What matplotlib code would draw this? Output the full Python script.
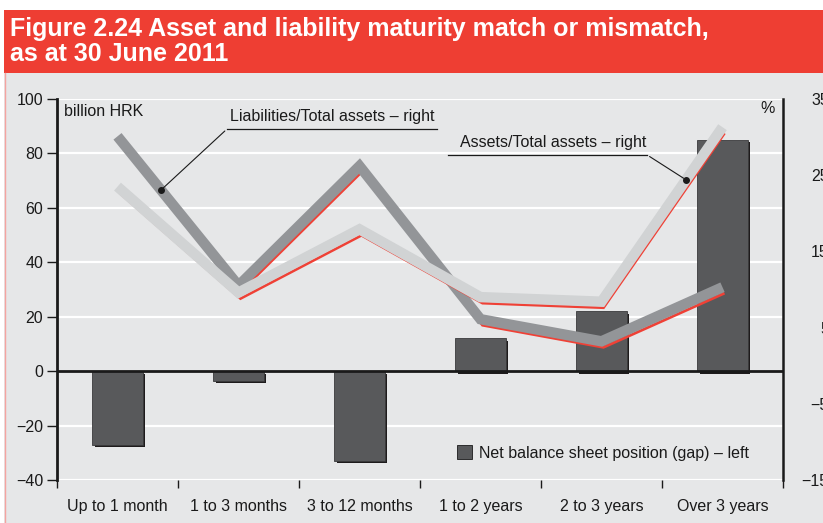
import matplotlib
matplotlib.use("Agg")
import matplotlib.pyplot as plt
import matplotlib.transforms as mtransforms
from matplotlib.patches import Rectangle, Patch
from matplotlib.lines import Line2D

# ---------------- data ----------------
categories = ["Up to 1 month", "1 to 3 months", "3 to 12 months",
              "1 to 2 years", "2 to 3 years", "Over 3 years"]
net_gap = [-27.0, -3.5, -33.0, 12.0, 22.0, 85.0]          # billion HRK, left axis
liab_ratio = [30.1, 10.5, 26.2, 6.1, 3.2, 10.3]           # %, right axis
asset_ratio = [23.5, 9.6, 17.9, 9.0, 8.4, 31.3]           # %, right axis
left_ticks = [-40, -20, 0, 20, 40, 60, 80, 100]
right_ticks = [-15, -5, 5, 15, 25, 35]

title_l1 = "Figure 2.24 Asset and liability maturity match or mismatch,"
title_l2 = "as at 30 June 2011"

# ---------------- style ----------------
BG = "#e6e7e8"
RED = "#ee3e33"
BAR = "#58595b"
SHADOW = "#1e1b1c"
LIAB = "#939598"
ASSET = "#d1d3d4"
LRED = "#ef4136"
FONT = ["Liberation Sans", "DejaVu Sans"]
plt.rcParams["font.family"] = FONT
FS = 11.5

W, H, DPI = 823, 523, 100
fig = plt.figure(figsize=(W / DPI, H / DPI), dpi=DPI, facecolor="white")

# background panels
fig.patches.append(Rectangle((4 / W, 0), 1 - 4 / W, (H - 73) / H, transform=fig.transFigure,
                             facecolor=BG, edgecolor="none", zorder=-10))
fig.patches.append(Rectangle((4 / W, (H - 73) / H), 1 - 4 / W, 63 / H, transform=fig.transFigure,
                             facecolor=RED, edgecolor="none", zorder=-10))
fig.lines.append(Line2D([4.5 / W, 4.5 / W], [0, (H - 73) / H], transform=fig.transFigure,
                        color="#f4a3a0", lw=1.0, zorder=-9))

title_font = ["Liberation Sans Narrow", "Liberation Sans", "DejaVu Sans"]
fig.text(10 / W, (H - 36) / H, title_l1, color="white", fontsize=18, fontweight="bold",
         family=title_font, va="baseline", ha="left")
fig.text(10 / W, (H - 61) / H, title_l2, color="white", fontsize=18, fontweight="bold",
         family=title_font, va="baseline", ha="left")

# ---------------- axes ----------------
x0, x1, ytop, ybot = 57, 783, 99, 480
ax = fig.add_axes([x0 / W, (H - ybot) / H, (x1 - x0) / W, (ybot - ytop) / H])
ax.set_facecolor("none")
ax.set_xlim(-0.5, len(categories) - 0.5)
ax.set_ylim(-40, 100)

xs = list(range(len(categories)))

# gridlines
for t in left_ticks:
    if t != 0:
        ax.axhline(t, color="white", lw=1.6, zorder=0)

# bars with shadow
shadow_off = mtransforms.ScaledTranslation(2.5 / DPI, -2.5 / DPI, fig.dpi_scale_trans)
ax.bar(xs, net_gap, width=0.42, color=SHADOW, transform=ax.transData + shadow_off,
       zorder=2, linewidth=0)
ax.bar(xs, net_gap, width=0.42, color=BAR, edgecolor="#3a3a3c", linewidth=0.6, zorder=3)
ax.axhline(0, color="#1a1a1a", lw=2.0, zorder=4)

for s in ["top", "bottom"]:
    ax.spines[s].set_visible(False)
ax.spines["left"].set_linewidth(2.0)
ax.spines["left"].set_color("#1a1a1a")
ax.spines["right"].set_visible(False)

ax.set_yticks(left_ticks)
ax.set_yticklabels([str(t).replace("-", "\u2212") for t in left_ticks])
ax.tick_params(axis="y", direction="out", length=7, width=1.0, pad=3,
               labelsize=FS, colors="#1a1a1a")

ax.set_xticks(xs)
ax.set_xticklabels(categories)
ax.set_xticks([i - 0.5 for i in range(len(categories) + 1)], minor=True)
ax.tick_params(axis="x", which="major", length=0, pad=14, labelsize=FS, colors="#1a1a1a")
ax.tick_params(axis="x", which="minor", length=6, width=1.0, direction="out", color="#1a1a1a")

# right axis
ax2 = ax.twinx()
ax2.set_ylim(-15, 35)
ax2.set_facecolor("none")
for s in ["top", "bottom", "left"]:
    ax2.spines[s].set_visible(False)
ax2.spines["right"].set_linewidth(1.8)
ax2.spines["right"].set_color("#1a1a1a")
ax2.set_yticks(right_ticks)
ax2.set_yticklabels([str(t).replace("-", "\u2212") for t in right_ticks])
ax2.tick_params(axis="y", length=0, pad=33, labelsize=FS, colors="#1a1a1a")
for lab in ax2.get_yticklabels():
    lab.set_horizontalalignment("right")

line_off = mtransforms.ScaledTranslation(2 / DPI, -6 / DPI, fig.dpi_scale_trans)
ax2.plot(xs, liab_ratio, color=LRED, lw=2.0, transform=ax2.transData + line_off,
         solid_joinstyle="miter", solid_capstyle="butt", zorder=5)
ax2.plot(xs, liab_ratio, color=LIAB, lw=7.5, solid_joinstyle="miter",
         solid_capstyle="butt", zorder=6)
ax2.plot(xs, asset_ratio, color=LRED, lw=2.0, transform=ax2.transData + line_off,
         solid_joinstyle="miter", solid_capstyle="butt", zorder=7)
ax2.plot(xs, asset_ratio, color=ASSET, lw=7.5, solid_joinstyle="miter",
         solid_capstyle="butt", zorder=8)

# annotations
ax2.text(0.0096, 0.966, "billion HRK", transform=ax2.transAxes, fontsize=FS,
         ha="left", va="center", color="#1a1a1a")
ax2.text(0.979, 0.976, "%", transform=ax2.transAxes, fontsize=FS,
         ha="center", va="center", color="#1a1a1a")

# Liabilities label
liab_dot = (0.36, 23.06)
ax2.plot([liab_dot[0]], [liab_dot[1]], "o", color="#1a1a1a", ms=4, zorder=10)
ax2.annotate("", xy=liab_dot, xycoords="data", xytext=(0.234, 0.921), textcoords="axes fraction",
             arrowprops=dict(arrowstyle="-", color="#1a1a1a", lw=0.8), zorder=10)
ax2.plot([0.234, 0.523], [0.921, 0.921], transform=ax2.transAxes, color="#1a1a1a", lw=0.9, zorder=10)
ax2.text(0.238, 0.953, "Liabilities/Total assets \u2013 right", transform=ax2.transAxes,
         fontsize=FS, ha="left", va="center", color="#1a1a1a")

# Assets label
asset_dot = (4.698, 24.4)
ax2.plot([asset_dot[0]], [asset_dot[1]], "o", color="#1a1a1a", ms=4, zorder=10)
ax2.annotate("", xy=asset_dot, xycoords="data", xytext=(0.813, 0.853), textcoords="axes fraction",
             arrowprops=dict(arrowstyle="-", color="#1a1a1a", lw=0.8), zorder=10)
ax2.plot([0.538, 0.813], [0.853, 0.853], transform=ax2.transAxes, color="#1a1a1a", lw=0.9, zorder=10)
ax2.text(0.555, 0.885, "Assets/Total assets \u2013 right", transform=ax2.transAxes,
         fontsize=FS, ha="left", va="center", color="#1a1a1a")

# legend
handle = Patch(facecolor=BAR, edgecolor="#1a1a1a", linewidth=0.6,
               label="Net balance sheet position (gap) \u2013 left")
leg = ax2.legend(handles=[handle], loc="center left",
                 bbox_to_anchor=((457 - x0) / (x1 - x0), (ybot - 453) / (ybot - ytop)),
                 frameon=False, fontsize=FS, handlelength=0.95, handleheight=0.95,
                 handletextpad=0.45, borderpad=0, borderaxespad=0)
for t in leg.get_texts():
    t.set_color("#1a1a1a")

fig.savefig("out.png", dpi=DPI, facecolor="white")
